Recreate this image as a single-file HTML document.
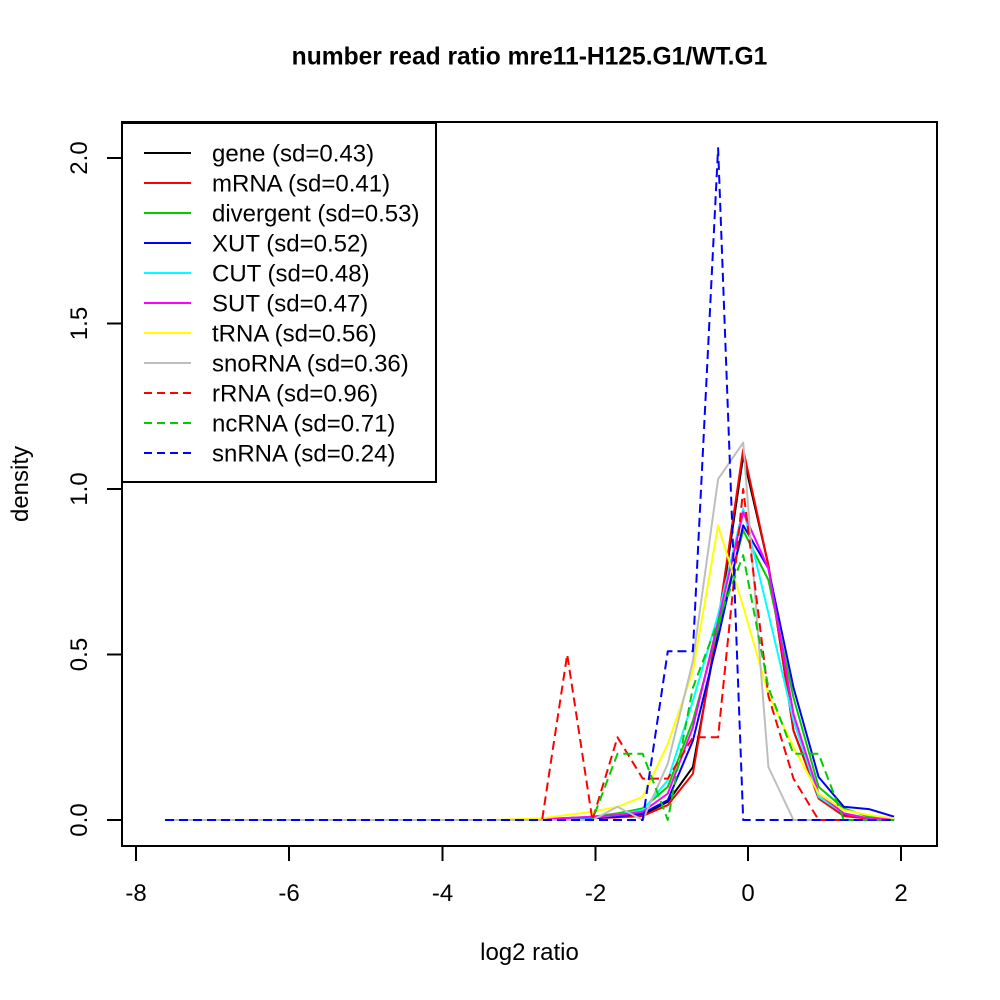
<!DOCTYPE html>
<html>
<head>
<meta charset="utf-8">
<style>
html,body{margin:0;padding:0;background:#fff;}
svg{display:block;}
text{font-family:"Liberation Sans",Arial,sans-serif;fill:#000;}
</style>
</head>
<body>
<svg width="1000" height="1000" viewBox="0 0 1000 1000" xmlns="http://www.w3.org/2000/svg">
<rect x="0" y="0" width="1000" height="1000" fill="#fff"/>

<!-- title -->
<text x="529.5" y="64.5" text-anchor="middle" font-size="24.6" font-weight="bold">number read ratio mre11-H125.G1/WT.G1</text>

<defs>
<clipPath id="pc"><rect x="122" y="122" width="815" height="724"/></clipPath>
</defs>

<g clip-path="url(#pc)" fill="none" stroke-width="2" stroke-linejoin="round">
<!-- gene -->
<polyline stroke="#000000" points="165,820 517,820 542.1,819.3 567.2,818.7 592.4,818.0 617.5,816.7 642.7,815.0 667.8,801.8 692.9,767.0 718.1,628.0 743.2,455.9 768.4,565.1 793.5,730.6 818.6,796.8 843.8,815.0 868.9,818.3 894.1,819.3"/>
<!-- mRNA -->
<polyline stroke="#FF0000" points="165,820 517,820 542.1,819.7 567.2,819.0 592.4,818.3 617.5,817.4 642.7,816.0 667.8,805.1 692.9,773.7 718.1,621.4 743.2,449.3 768.4,565.1 793.5,730.6 818.6,798.5 843.8,816.0 868.9,818.7 894.1,819.7"/>
<!-- divergent -->
<polyline stroke="#00CD00" points="165,820 517,820 542.1,819.0 567.2,818.0 592.4,816.7 617.5,813.4 642.7,808.4 667.8,786.9 692.9,720.7 718.1,628.0 743.2,530.4 768.4,580.0 793.5,697.5 818.6,786.9 843.8,808.4 868.9,816.7 894.1,819.0"/>
<!-- XUT -->
<polyline stroke="#0000FF" points="165,820 517,820 542.1,819.7 567.2,819.0 592.4,818.3 617.5,816.7 642.7,813.4 667.8,800.1 692.9,740.6 718.1,638.0 743.2,525.4 768.4,568.4 793.5,687.6 818.6,777.0 843.8,806.8 868.9,809.1 894.1,816.7"/>
<!-- CUT -->
<polyline stroke="#00FFFF" points="165,820 517,820 542.1,819.3 567.2,818.3 592.4,817.4 617.5,815.0 642.7,810.1 667.8,780.3 692.9,700.8 718.1,614.8 743.2,508.9 768.4,613.1 793.5,720.7 818.6,796.8 843.8,813.4 868.9,818.3 894.1,819.3"/>
<!-- SUT -->
<polyline stroke="#FF00FF" points="165,820 517,820 542.1,819.3 567.2,818.0 592.4,816.7 617.5,815.0 642.7,811.7 667.8,793.5 692.9,727.3 718.1,621.4 743.2,512.2 768.4,568.4 793.5,714.1 818.6,793.5 843.8,813.4 868.9,818.3 894.1,819.3"/>
<!-- tRNA -->
<polyline stroke="#FFFF00" points="165,820 491.8,820 517,819.3 542.1,818.3 567.2,815.0 592.4,811.7 617.5,806.8 642.7,796.8 667.8,743.9 692.9,671.1 718.1,525.4 743.2,606.5 768.4,694.2 793.5,747.2 818.6,793.5 843.8,810.1 868.9,815.0 894.1,818.3"/>
<!-- snoRNA -->
<polyline stroke="#BEBEBE" points="165,820 592.4,820 617.5,806.8 642.7,820 667.8,763.7 692.9,661.1 718.1,479.1 743.2,442.7 768.4,767.0 793.5,820 894.1,820"/>
<!-- rRNA -->
<polyline stroke="#FF0000" stroke-dasharray="9,5" points="165,820 542.1,820 567.2,654.5 592.4,820 617.5,737.3 642.7,778.6 667.8,778.6 692.9,737.3 718.1,737.3 743.2,489 768.4,695.9 793.5,778.6 818.6,820 894.1,820"/>
<!-- ncRNA -->
<polyline stroke="#00CD00" stroke-dasharray="9,5" points="165,820 592.4,820 617.5,753.8 642.7,753.8 667.8,820 692.9,687.6 718.1,621.4 743.2,555.2 768.4,687.6 793.5,753.8 818.6,753.8 843.8,820 894.1,820"/>
<!-- snRNA -->
<polyline stroke="#0000FF" stroke-dasharray="9,5" points="165,820 642.7,820 667.8,651.2 692.9,651.2 718.1,148.1 743.2,820 894.1,820"/>
</g>

<!-- plot box -->
<rect x="122" y="122" width="815" height="724" fill="none" stroke="#000" stroke-width="2"/>

<!-- x axis ticks -->
<g stroke="#000" stroke-width="2">
<line x1="136" y1="846" x2="901" y2="846"/>
<line x1="136" y1="846" x2="136" y2="861"/>
<line x1="289" y1="846" x2="289" y2="861"/>
<line x1="442.5" y1="846" x2="442.5" y2="861"/>
<line x1="595.5" y1="846" x2="595.5" y2="861"/>
<line x1="748" y1="846" x2="748" y2="861"/>
<line x1="901" y1="846" x2="901" y2="861"/>
</g>
<g font-size="24" text-anchor="middle">
<text x="136" y="901">-8</text>
<text x="289" y="901">-6</text>
<text x="442.5" y="901">-4</text>
<text x="595.5" y="901">-2</text>
<text x="748" y="901">0</text>
<text x="901" y="901">2</text>
</g>

<!-- y axis ticks -->
<g stroke="#000" stroke-width="2">
<line x1="122" y1="820" x2="122" y2="158"/>
<line x1="107" y1="820" x2="122" y2="820"/>
<line x1="107" y1="654.5" x2="122" y2="654.5"/>
<line x1="107" y1="489" x2="122" y2="489"/>
<line x1="107" y1="323.5" x2="122" y2="323.5"/>
<line x1="107" y1="158" x2="122" y2="158"/>
</g>
<g font-size="24" text-anchor="middle">
<text transform="translate(87,820) rotate(-90)">0.0</text>
<text transform="translate(87,654.5) rotate(-90)">0.5</text>
<text transform="translate(87,489) rotate(-90)">1.0</text>
<text transform="translate(87,323.5) rotate(-90)">1.5</text>
<text transform="translate(87,158) rotate(-90)">2.0</text>
</g>

<!-- axis labels -->
<text x="529.5" y="960" font-size="24" text-anchor="middle">log2 ratio</text>
<text transform="translate(28,484) rotate(-90)" font-size="24" text-anchor="middle">density</text>

<!-- legend -->
<rect x="122" y="123" width="314" height="359" fill="#fff" stroke="#000" stroke-width="2"/>
<g stroke-width="2">
<line x1="144" y1="153" x2="191" y2="153" stroke="#000000"/>
<line x1="144" y1="183" x2="191" y2="183" stroke="#FF0000"/>
<line x1="144" y1="213" x2="191" y2="213" stroke="#00CD00"/>
<line x1="144" y1="243" x2="191" y2="243" stroke="#0000FF"/>
<line x1="144" y1="273" x2="191" y2="273" stroke="#00FFFF"/>
<line x1="144" y1="303" x2="191" y2="303" stroke="#FF00FF"/>
<line x1="144" y1="333" x2="191" y2="333" stroke="#FFFF00"/>
<line x1="144" y1="363" x2="191" y2="363" stroke="#BEBEBE"/>
<line x1="144" y1="393" x2="191" y2="393" stroke="#FF0000" stroke-dasharray="8,5"/>
<line x1="144" y1="423" x2="191" y2="423" stroke="#00CD00" stroke-dasharray="8,5"/>
<line x1="144" y1="453" x2="191" y2="453" stroke="#0000FF" stroke-dasharray="8,5"/>
</g>
<g font-size="24">
<text x="212" y="161.5">gene (sd=0.43)</text>
<text x="212" y="191.5">mRNA (sd=0.41)</text>
<text x="212" y="221.5">divergent (sd=0.53)</text>
<text x="212" y="251.5">XUT (sd=0.52)</text>
<text x="212" y="281.5">CUT (sd=0.48)</text>
<text x="212" y="311.5">SUT (sd=0.47)</text>
<text x="212" y="341.5">tRNA (sd=0.56)</text>
<text x="212" y="371.5">snoRNA (sd=0.36)</text>
<text x="212" y="401.5">rRNA (sd=0.96)</text>
<text x="212" y="431.5">ncRNA (sd=0.71)</text>
<text x="212" y="461.5">snRNA (sd=0.24)</text>
</g>
</svg>
</body>
</html>
